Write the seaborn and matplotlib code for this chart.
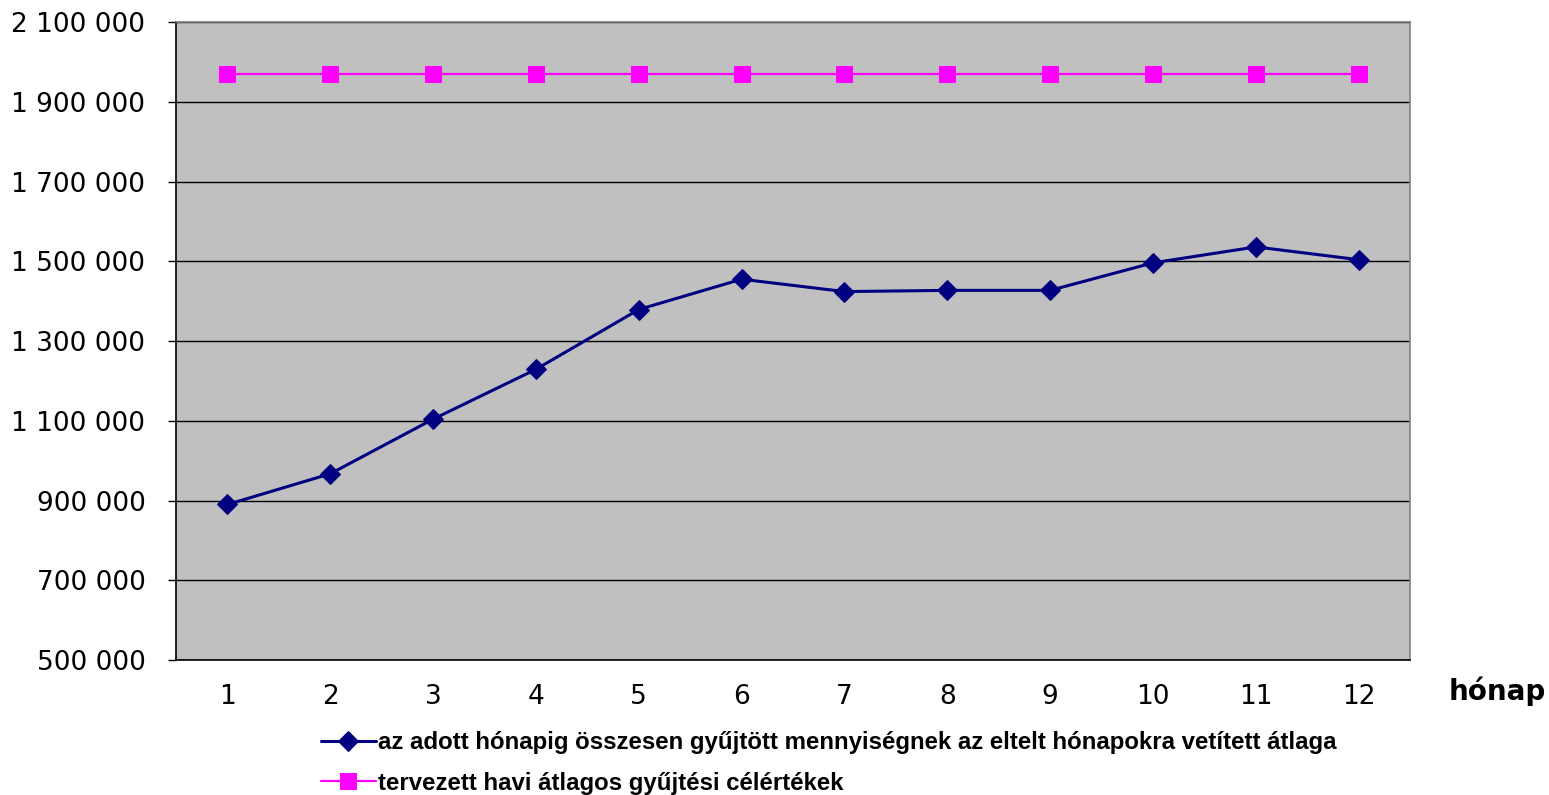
import numpy as np
import pandas as pd
import seaborn as sns
import matplotlib.pyplot as plt
from matplotlib.ticker import FuncFormatter, FixedLocator

# ── Data ──────────────────────────────────────────────────────────────────────
months = [1, 2, 3, 4, 5, 6, 7, 8, 9, 10, 11, 12]
projected_avg = [890000, 967000, 1104000, 1229000, 1379000, 1455000,
                 1424000, 1427000, 1427000, 1496000, 1536000, 1504000]
target_avg = [1970000] * 12

label_avg = "az adott hónapig összesen gyűjtött mennyiségnek az eltelt hónapokra vetített átlaga"
label_target = "tervezett havi átlagos gyűjtési célértékek"

# ── Style ─────────────────────────────────────────────────────────────────────
sns.set_style("white")
plt.rcParams["font.family"] = ["DejaVu Sans"]
plt.rcParams["text.color"] = "black"
plt.rcParams["xtick.color"] = "black"
plt.rcParams["ytick.color"] = "black"

fig = plt.figure(figsize=(15.49, 7.95), dpi=100)
ax = fig.add_axes([0.1136, 0.1698, 0.7967, 0.8025])
ax.set_facecolor("#C0C0C0")

sns.lineplot(x=months, y=projected_avg, color="#000080", marker="D",
             markersize=10, markeredgecolor="#000080", linewidth=2.2,
             label=label_avg, ax=ax, legend=False)
sns.lineplot(x=months, y=target_avg, color="#FF00FF", marker="s",
             markersize=11, markeredgecolor="#FF00FF", linewidth=1.6,
             label=label_target, ax=ax, legend=False)

# ── Axes ──────────────────────────────────────────────────────────────────────
ax.set_xlim(0.5, 12.5)
ax.set_ylim(500000, 2100000)
ax.set_yticks(np.arange(500000, 2100001, 200000))
ax.yaxis.set_major_formatter(FuncFormatter(lambda v, p: f"{v:,.0f}".replace(",", " ")))
ax.yaxis.grid(True, color="black", linewidth=1)
ax.set_axisbelow(True)

ax.set_xticks(months)
ax.set_xticklabels([str(m) for m in months])
ax.xaxis.set_minor_locator(FixedLocator(np.arange(0.5, 12.6, 1)))
ax.tick_params(axis="x", which="major", length=0, pad=17, labelsize=19, labelcolor="black")
ax.tick_params(axis="x", which="minor", length=7, width=1, direction="out", color="black")
ax.tick_params(axis="y", which="major", length=6, width=1, direction="out",
               pad=16, labelsize=19, left=True, color="black", labelcolor="black")
ax.set_xlabel("")
ax.set_ylabel("")

for side in ["left", "bottom"]:
    ax.spines[side].set_color("black")
    ax.spines[side].set_linewidth(1.2)
for side in ["top", "right"]:
    ax.spines[side].set_color("#808080")
    ax.spines[side].set_linewidth(1.2)

fig.text(0.935, 0.13, "hónap", fontsize=20, fontweight="bold", color="black",
         ha="left", va="center")

# ── Legend ────────────────────────────────────────────────────────────────────
handles, labels = ax.get_legend_handles_labels()
leg = fig.legend(handles, labels, loc="upper left", bbox_to_anchor=(0.207, 0.080),
                 frameon=False, handlelength=2.3, handletextpad=0.08, borderpad=0,
                 borderaxespad=0, labelspacing=0.72,
                 prop={"family": "Liberation Sans", "weight": "bold", "size": 17.3})
for t in leg.get_texts():
    t.set_color("black")

fig.savefig("out.png", dpi=100)
